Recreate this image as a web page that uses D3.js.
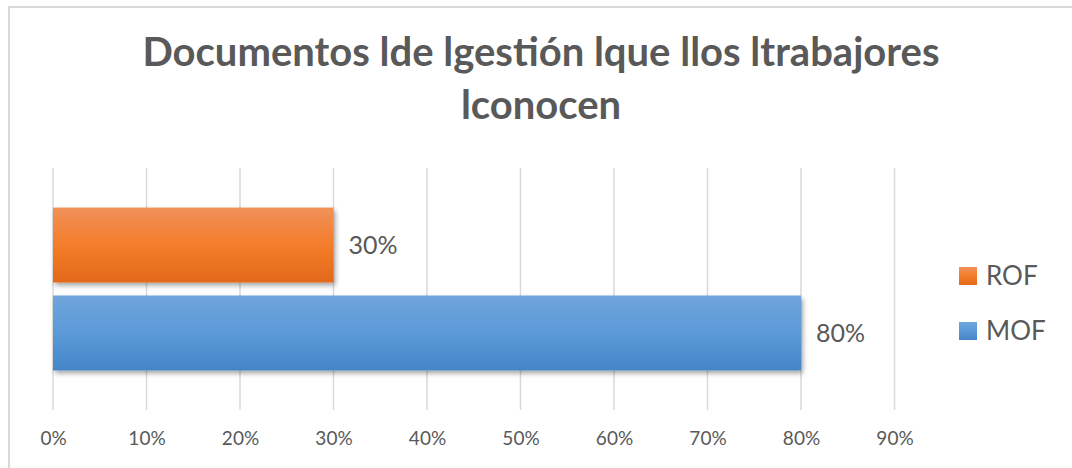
<!DOCTYPE html>
<html>
<head>
<meta charset="utf-8">
<script src="https://cdn.jsdelivr.net/npm/d3@7"></script>
<style>
  body { margin: 0; background: #fff; }
  text { font-family: Lato, "Open Sans", sans-serif; fill: #595959; }
</style>
</head>
<body>
<div id="chart"></div>
<script>
const width = 1072;
const height = 468;

const titleLines = ["Documentos lde lgestión lque llos ltrabajores", "lconocen"];
const series = ["ROF", "MOF"];
const values = [0.30, 0.80];
const ticks = [0, 0.1, 0.2, 0.3, 0.4, 0.5, 0.6, 0.7, 0.8, 0.9];
const colors = {
  ROF: ["#f0915a", "#f47d2a", "#e2691a"],
  MOF: ["#6fa5db", "#5b9ad8", "#4485c6"]
};

const svg = d3.select("#chart")
  .append("svg")
  .attr("width", width)
  .attr("height", height);

// outer frame (only top/left visible in the crop)
svg.append("rect")
  .attr("x", 9).attr("y", 7)
  .attr("width", width + 20).attr("height", height + 20)
  .attr("fill", "none")
  .attr("stroke", "#d9d9d9")
  .attr("stroke-width", 2);

const defs = svg.append("defs");
series.forEach(s => {
  const g = defs.append("linearGradient")
    .attr("id", "grad-" + s)
    .attr("x1", 0).attr("y1", 0).attr("x2", 0).attr("y2", 1);
  g.append("stop").attr("offset", "0%").attr("stop-color", colors[s][0]);
  g.append("stop").attr("offset", "50%").attr("stop-color", colors[s][1]);
  g.append("stop").attr("offset", "100%").attr("stop-color", colors[s][2]);
});
const shadow = defs.append("filter").attr("id", "shadow")
  .attr("x", "-5%").attr("y", "-20%").attr("width", "115%").attr("height", "150%");
shadow.append("feDropShadow")
  .attr("dx", 2).attr("dy", 3).attr("stdDeviation", 2.5)
  .attr("flood-color", "#000").attr("flood-opacity", 0.35);

// title
svg.append("g").selectAll("text")
  .data(titleLines)
  .join("text")
  .attr("x", 541)
  .attr("y", (d, i) => 66 + i * 53)
  .attr("text-anchor", "middle")
  .style("font-size", "40px")
  .style("font-weight", "bold")
  .text(d => d);

const x = d3.scaleLinear()
  .domain([0, 0.9])
  .range([53, 894.5]);

const y = d3.scaleBand()
  .domain(series)
  .range([168, 410])
  .paddingInner(0.148)
  .paddingOuter(0.45);

// gridlines
svg.append("g").selectAll("line")
  .data(ticks)
  .join("line")
  .attr("x1", d => x(d)).attr("x2", d => x(d))
  .attr("y1", 168).attr("y2", 410)
  .attr("stroke", "#d9d9d9")
  .attr("stroke-width", 1.5);

// x axis labels
const xAxis = d3.axisBottom(x)
  .tickValues(ticks)
  .tickFormat(d3.format(".0%"))
  .tickSize(0)
  .tickPadding(0);

svg.append("g")
  .attr("transform", "translate(0,431)")
  .call(xAxis)
  .call(g => g.select(".domain").remove())
  .call(g => g.selectAll("text")
    .style("font-size", "19px")
    .attr("dy", "0.71em"));

// bars
svg.append("g").selectAll("rect")
  .data(series)
  .join("rect")
  .attr("x", x(0))
  .attr("y", d => y(d))
  .attr("width", (d, i) => x(values[i]) - x(0))
  .attr("height", y.bandwidth())
  .attr("fill", d => "url(#grad-" + d + ")")
  .attr("filter", "url(#shadow)");

// data labels
svg.append("g").selectAll("text")
  .data(series)
  .join("text")
  .attr("x", (d, i) => x(values[i]) + 15)
  .attr("y", d => y(d) + y.bandwidth() / 2)
  .attr("dy", "0.35em")
  .style("font-size", "25px")
  .text((d, i) => d3.format(".0%")(values[i]));

// legend
const legend = svg.append("g").selectAll("g")
  .data(series)
  .join("g")
  .attr("transform", (d, i) => `translate(959,${276 + i * 55})`);

legend.append("rect")
  .attr("x", 0).attr("y", -9)
  .attr("width", 18).attr("height", 18)
  .attr("fill", d => "url(#grad-" + d + ")");

legend.append("text")
  .attr("x", 27)
  .attr("dy", "0.35em")
  .style("font-size", "26px")
  .text(d => d);
</script>
</body>
</html>
